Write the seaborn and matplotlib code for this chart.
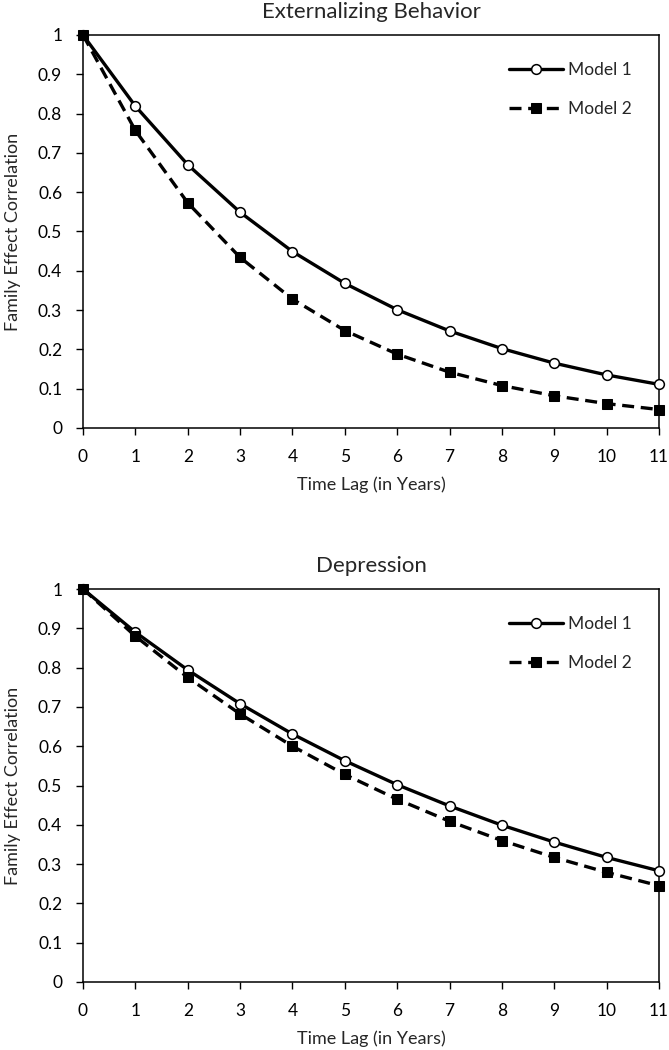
import numpy as np
import pandas as pd
import matplotlib
matplotlib.use('Agg')
import matplotlib.pyplot as plt
from matplotlib.ticker import FuncFormatter
import seaborn as sns

sns.set_style('white')
plt.rcParams['font.family'] = ['Lato', 'DejaVu Sans']

# ── data ────────────────────────────────────────────────────
lags = [0, 1, 2, 3, 4, 5, 6, 7, 8, 9, 10, 11]

ext_model1 = [1.0, 0.819, 0.670, 0.549, 0.449, 0.368, 0.301, 0.247, 0.202, 0.165, 0.135, 0.111]
ext_model2 = [1.0, 0.757, 0.573, 0.434, 0.328, 0.248, 0.188, 0.142, 0.108, 0.082, 0.062, 0.047]

dep_model1 = [1.0, 0.890, 0.794, 0.708, 0.631, 0.563, 0.502, 0.448, 0.399, 0.356, 0.317, 0.283]
dep_model2 = [1.0, 0.880, 0.775, 0.682, 0.600, 0.528, 0.465, 0.409, 0.360, 0.317, 0.279, 0.245]

panels = [
    ('Externalizing Behavior', ext_model1, ext_model2),
    ('Depression', dep_model1, dep_model2),
]

# ── figure ──────────────────────────────────────────────────
fig = plt.figure(figsize=(6.69, 10.5), dpi=100, facecolor='white')
W, H = 669, 1050
boxes = [(83, 35, 659, 428), (83, 589, 659, 982)]  # left, top, right, bottom in px

for (title, m1, m2), (l, t, r, b) in zip(panels, boxes):
    ax = fig.add_axes([l / W, 1 - b / H, (r - l) / W, (b - t) / H])
    df = pd.DataFrame({'lag': lags, 'm1': m1, 'm2': m2})

    sns.lineplot(data=df, x='lag', y='m1', ax=ax, color='black', lw=2.4,
                 marker='o', ms=7, markerfacecolor='white', markeredgecolor='black',
                 markeredgewidth=1.1, label='Model 1', clip_on=False, zorder=3)
    sns.lineplot(data=df, x='lag', y='m2', ax=ax, color='black', lw=2.4,
                 marker='s', ms=7, markerfacecolor='black', markeredgecolor='black',
                 label='Model 2', clip_on=False, zorder=3)
    ax.lines[-1].set_dashes([3.6, 2.0])

    ax.set_xlim(0, 11)
    ax.set_ylim(0, 1)
    ax.set_xticks(lags)
    ax.set_yticks(np.arange(0, 1.01, 0.1))
    ax.yaxis.set_major_formatter(FuncFormatter(lambda v, p: f'{v:g}'))
    ax.tick_params(axis='both', direction='out', length=5, width=1, colors='black',
                   labelsize=12.5, bottom=True, left=True)
    ax.tick_params(axis='x', pad=10)
    ax.tick_params(axis='y', pad=10)
    for s in ax.spines.values():
        s.set_color('black')
        s.set_linewidth(1.1)

    ax.set_title(title, fontsize=16, pad=12)
    ax.set_xlabel('Time Lag (in Years)', fontsize=13)
    ax.set_ylabel('Family Effect Correlation', fontsize=13)
    ax.xaxis.set_label_coords(0.5, -0.122)
    ax.yaxis.set_label_coords(-0.108, 0.5)
    ax.grid(False)

    ax.legend(loc='upper right', frameon=False, fontsize=12.5, handlelength=3.1,
              labelspacing=1.3, borderaxespad=0.0, handletextpad=0.3,
              bbox_to_anchor=(0.965, 0.948))

fig.savefig('out.png', dpi=100, facecolor='white')
